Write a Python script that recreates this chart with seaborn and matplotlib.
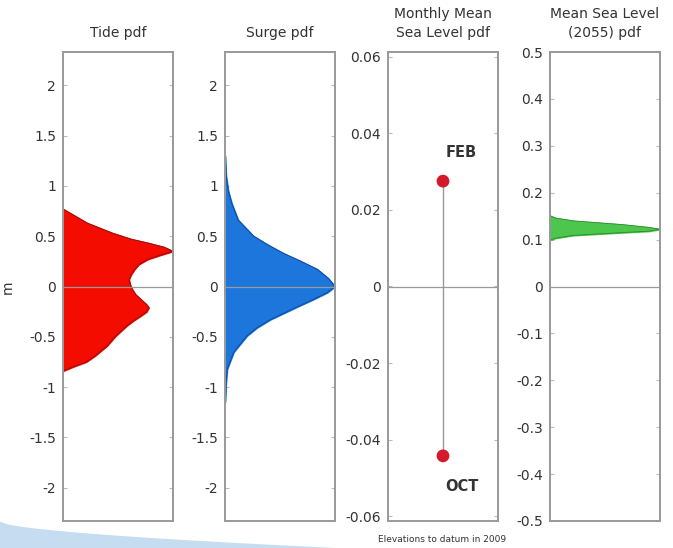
import numpy as np
import pandas as pd
import seaborn as sns
import matplotlib
matplotlib.use("Agg")
from matplotlib import pyplot as plt
from matplotlib.patches import Polygon

# Tide pdf (elevation in m, density scaled to panel width)
tide_elev = [0.77, 0.70, 0.63, 0.53, 0.47, 0.43, 0.39, 0.35, 0.31, 0.27, 0.22,
             0.17, 0.12, 0.07, 0.02, -0.03, -0.08, -0.13, -0.18, -0.21, -0.25,
             -0.29, -0.34, -0.39, -0.49, -0.59, -0.69, -0.75, -0.79, -0.84]
tide_dens = [0.0, 0.11, 0.22, 0.45, 0.62, 0.78, 0.92, 1.0, 0.88, 0.77, 0.69,
             0.65, 0.62, 0.60, 0.61, 0.63, 0.66, 0.71, 0.76, 0.78, 0.76,
             0.71, 0.64, 0.58, 0.48, 0.40, 0.29, 0.21, 0.11, 0.0]

# Surge pdf
surge_elev = [1.30, 1.10, 0.95, 0.83, 0.66, 0.50, 0.42, 0.33, 0.25, 0.17, 0.08,
              0.0, -0.06, -0.13, -0.20, -0.33, -0.41, -0.49, -0.65, -0.82,
              -0.95, -1.15]
surge_dens = [0.0, 0.01, 0.03, 0.06, 0.12, 0.26, 0.38, 0.53, 0.69, 0.84, 0.94,
              1.0, 0.93, 0.80, 0.66, 0.41, 0.29, 0.20, 0.08, 0.02,
              0.01, 0.0]

# Monthly mean sea level extremes
months = ["FEB", "OCT"]
month_level = [0.0275, -0.0442]

# Mean sea level (2055) pdf
msl_elev = [0.151, 0.146, 0.140, 0.132, 0.126, 0.122, 0.118, 0.115, 0.109, 0.103, 0.099]
msl_dens = [0.0, 0.05, 0.21, 0.66, 0.90, 1.0, 0.90, 0.66, 0.21, 0.05, 0.0]

titles = ["Tide pdf", "Surge pdf", "Monthly Mean\nSea Level pdf", "Mean Sea Level\n(2055) pdf"]

sns.set_style("white")
plt.rcParams['font.family'] = ['DejaVu Sans']

fig = plt.figure(figsize=(6.73, 5.48), dpi=100)
lefts = [63, 225, 388, 550]
axes = [fig.add_axes([l / 673, 1 - 521 / 548, 110 / 673, 469 / 548]) for l in lefts]

gray = "#999999"
txt = "#333333"

def style(ax, ylim, ticks, labels):
    ax.set_xlim(0, 1)
    ax.set_ylim(*ylim)
    ax.set_xticks([])
    ax.set_yticks(ticks)
    ax.set_yticklabels(labels)
    ax.tick_params(axis="y", which="both", direction="in", length=3, width=0.8,
                   color="#bbbbbb", labelsize=10, labelcolor=txt, pad=5,
                   left=True, right=True)
    for s in ax.spines.values():
        s.set_color(gray)
        s.set_linewidth(1.4)
    ax.axhline(0, color=gray, lw=0.9, zorder=3)
    ax.set_xlabel("")
    ax.set_ylabel("")

def fmt(v):
    return f"{v + 0.0:g}"

pdf_ticks = np.arange(-2, 2.01, 0.5)
pdf_labels = [fmt(v) for v in pdf_ticks]

# Tide
ax = axes[0]
ax.fill_betweenx(tide_elev, 0, tide_dens, color="#f50c00", zorder=2)
sns.lineplot(x=tide_dens, y=tide_elev, orient="y", sort=False, ax=ax,
             color="#a01010", lw=0.8, zorder=2)
style(ax, (-2.33, 2.33), pdf_ticks, pdf_labels)

# Surge
ax = axes[1]
ax.fill_betweenx(surge_elev, 0, surge_dens, color="#1c76dc", zorder=2)
sns.lineplot(x=surge_dens, y=surge_elev, orient="y", sort=False, ax=ax,
             color="#1050a0", lw=0.8, zorder=2)
style(ax, (-2.33, 2.33), pdf_ticks, pdf_labels)

# Monthly mean sea level
ax = axes[2]
mdf = pd.DataFrame({"x": [0.5, 0.5], "level": month_level, "month": months})
sns.lineplot(data=mdf, x="x", y="level", orient="y", ax=ax, color=gray, lw=1.0, zorder=3)
sns.scatterplot(data=mdf, x="x", y="level", ax=ax, color="#d41a2a", s=85,
                edgecolor="none", zorder=4)
ax.text(0.52, month_level[0] + 0.0075, months[0], fontsize=10.5, fontweight="bold",
        color=txt, ha="left", va="center")
ax.text(0.52, month_level[1] - 0.0081, months[1], fontsize=10.5, fontweight="bold",
        color=txt, ha="left", va="center")
mticks = np.arange(-0.06, 0.061, 0.02)
style(ax, (-0.0612, 0.0612), mticks, [fmt(round(v, 2)) for v in mticks])

# Mean sea level 2055
ax = axes[3]
ax.fill_betweenx(msl_elev, 0, msl_dens, color="#4cc64c", zorder=2)
sns.lineplot(x=msl_dens, y=msl_elev, orient="y", sort=False, ax=ax,
             color="#2a8a2a", lw=0.6, zorder=2)
sticks = np.arange(-0.5, 0.51, 0.1)
style(ax, (-0.5, 0.5), sticks, [fmt(round(v, 1)) for v in sticks])

for ax, t in zip(axes, titles):
    ax.set_title(t, fontsize=10, color=txt, pad=11, linespacing=1.45)

fig.text(8 / 673, 1 - 287 / 548, "m", rotation=90, fontsize=10, color=txt,
         ha="center", va="center")
fig.text(442 / 673, 1 - 539 / 548, "Elevations to datum in 2009", fontsize=6.5,
         color=txt, ha="center", va="center")

# slide decoration swoosh (bottom left)
t = np.linspace(0, 1, 40)
upper = np.column_stack([t * 0.5, 0.048 - 0.048 * t ** 0.6])
lower = np.column_stack([t[::-1] * 0.5, np.zeros_like(t)])
fig.patches.append(Polygon(np.vstack([upper, lower]), closed=True,
                           transform=fig.transFigure, facecolor="#b8d4ee",
                           edgecolor="none", alpha=0.8, zorder=0))

plt.savefig("out.png", dpi=100)
